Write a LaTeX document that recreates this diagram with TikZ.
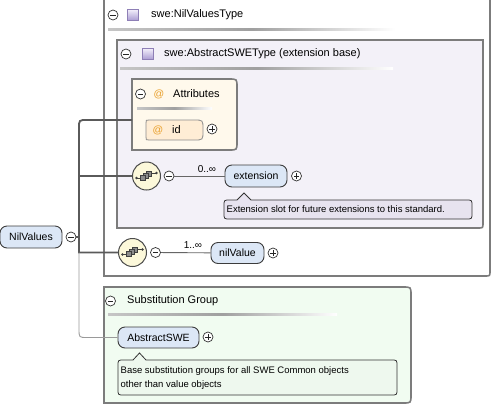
\documentclass[tikz,border=0pt]{standalone}
\usepackage{fontspec}
\setmainfont{Liberation Sans}
\definecolor{boxgray}{HTML}{7C7C7C}
\definecolor{linegray}{HTML}{5A5A5A}
\definecolor{thingray}{HTML}{9A9A9A}
\definecolor{elemfill}{HTML}{DCE7F6}
\definecolor{elemdraw}{HTML}{3C3C3C}
\definecolor{innerfill}{HTML}{F3F1F8}
\definecolor{attrfill}{HTML}{FFF9EC}
\definecolor{idfill}{HTML}{FFEDD5}
\definecolor{substfill}{HTML}{F1FCF1}
\definecolor{extann}{HTML}{E7E3EF}
\definecolor{absann}{HTML}{EEF8EE}
\definecolor{seqfill}{HTML}{FCF8DA}
\definecolor{atorange}{HTML}{E9A02C}
\definecolor{typedraw}{HTML}{8E7FB6}
\definecolor{typelight}{HTML}{F2EEFA}
\definecolor{typedark}{HTML}{A99BD2}
\newcommand{\mkminus}[2]{\node[pm] (#1) at (#2) {}; \draw[pmline] ([xshift=-2.6pt]#1.center) -- ([xshift=2.6pt]#1.center);}
\newcommand{\mkplus}[2]{\node[pm] (#1) at (#2) {}; \draw[pmline] ([xshift=-2.6pt]#1.center) -- ([xshift=2.6pt]#1.center) ([yshift=-2.6pt]#1.center) -- ([yshift=2.6pt]#1.center);}
\newcommand{\mkseq}[2]{\node[seqc] (#1) at (#2) {};
  \begin{scope}[shift={(#1.center)}]
    \draw[black!75,line width=0.8pt] (-10,2) -- (-6,2) (5,-3) -- (10,-3);
    \fill[black!75] (-10,2) circle (1.3pt) (10,-3) circle (1.3pt);
    \draw[draw=black!75,fill=black!45,line width=0.6pt] (0,-5) rectangle (5,0);
    \draw[draw=black!75,fill=black!45,line width=0.6pt] (-3,-3) rectangle (2,2);
    \draw[draw=black!75,fill=black!45,line width=0.6pt] (-6,-1) rectangle (-1,4);
  \end{scope}}
\begin{document}
\begin{tikzpicture}[x=1pt,y=-1pt,
  container/.style={draw=boxgray,line width=1.6pt},
  hdr/.style={anchor=west,inner sep=0pt,font=\fontsize{11}{13}\selectfont},
  elem/.style={draw=elemdraw,fill=elemfill,rounded corners=7pt,line width=0.9pt,inner sep=0pt,font=\fontsize{10.5}{12}\selectfont},
  pm/.style={circle,draw=black!80,fill=white,line width=0.7pt,minimum size=10pt,inner sep=0pt},
  pmline/.style={line width=0.8pt,black!85},
  seqc/.style={circle,draw=black!70,fill=seqfill,line width=1pt,minimum size=28pt,inner sep=0pt},
  trunk/.style={draw=linegray,line width=1.8pt},
  thinconn/.style={draw=thingray,line width=0.9pt},
  conn/.style={draw=black!60,line width=0.9pt},
  cardlabel/.style={inner sep=0pt,font=\fontsize{10}{11}\selectfont},
  annshape/.style={draw=black!80,line width=0.8pt},
  anntext/.style={inner sep=0pt,font=\fontsize{9.5}{14}\selectfont,align=left},
  typeicon/.style={draw=typedraw,line width=0.6pt,top color=typelight,bottom color=typedark,minimum size=11pt,inner sep=0pt},
  atsign/.style={inner sep=0pt,text=atorange,font=\fontsize{10.5}{12}\selectfont},
  sepline/.style={left color=gray!45,right color=white,middle color=gray!75}
]
\useasboundingbox (0,0) rectangle (493,405);
% outer type box
\draw[container,fill=white] (104,-3) -- (104,276) -- (485,276) .. controls (490,276) .. (490,271) -- (490,-3);
\shade[sepline] (108,28.5) rectangle (395,30.5);
\mkminus{m1}{113,15}
\node[typeicon] (t1) at (133,15) {};
\node[hdr] (h1) at (151,15) {swe:NilValuesType};
% inner type box
\draw[container,fill=innerfill] (117,40) -- (117,228) -- (478,228) .. controls (483,228) .. (483,223) -- (483,40) -- cycle;
\shade[sepline] (120,67.5) rectangle (393,69.5);
\mkminus{m2}{126,54}
\node[typeicon] (t2) at (148,54) {};
\node[hdr] (h2) at (164,54) {swe:AbstractSWEType (extension base)};
% attributes
\draw[container,fill=attrfill] (132,79) -- (229,79) .. controls (237,79) .. (237,87) -- (237,142) .. controls (237,150) .. (229,150) -- (132,150) -- cycle;
\shade[sepline] (137,107) rectangle (212,109);
\mkminus{m3}{140.5,94}
\node[atsign] (a1) at (159,94) {@};
\node[hdr] (h3) at (173,94) {Attributes};
\draw[draw=black!45,fill=idfill,line width=0.8pt] (149,120) -- (194,120) .. controls (203,120) .. (203,129) -- (203,131) .. controls (203,140) .. (194,140) -- (149,140) .. controls (146,140) .. (146,137) -- (146,123) .. controls (146,120) .. (149,120) -- cycle;
\node[atsign] (a2) at (158,130) {@};
\node[hdr] (idt) at (172,130) {id};
\mkplus{p1}{212,129}
% substitution group
\draw[container,fill=substfill] (104,287) -- (403,287) .. controls (411,287) .. (411,295) -- (411,395) .. controls (411,403) .. (403,403) -- (104,403) -- cycle;
\shade[sepline] (108,313) rectangle (337,315);
\mkminus{m4}{110.5,301}
\node[hdr] (h4) at (127,301) {Substitution Group};
% elements
\node[elem,minimum width=62pt,minimum height=22pt] (nv) at (31,237) {NilValues};
\mkminus{nvm}{71,237}
\mkseq{s1}{146.5,176}
\mkminus{s1m}{169,176}
\node[elem,minimum width=62pt,minimum height=22pt] (ext) at (256,176) {extension};
\mkplus{extp}{296.5,176}
\mkseq{s2}{132.5,252.5}
\mkminus{s2m}{155.5,252.5}
\node[elem,minimum width=53pt,minimum height=21pt] (nval) at (237.5,253) {nilValue};
\mkplus{nvalp}{273,253}
\node[elem,minimum width=81pt,minimum height=21pt] (abs) at (158.5,337.5) {AbstractSWE};
\mkplus{absp}{208,337}
% connectors
\coordinate (attrL) at (132,120);
\coordinate (j1) at (79,176);
\coordinate (j2) at (79,237);
\coordinate (j3) at (79,252.5);
\draw[trunk] (attrL) -- (87,120) .. controls (79,120) .. (79,128) -- (j3) -- (s2);
\draw[trunk] (j1) -- (s1);
\draw[trunk] (nvm) -- (j2);
\draw[thinconn] (j3) -- (79,329) .. controls (79,337.5) .. (87,337.5) -- (abs);
\draw[conn] (s1m) -- (ext);
\node[cardlabel] (c1) at (207,169) {0..∞};
\draw[conn] (s2m) -- (nval);
\node[cardlabel] (c2) at (193,245) {1..∞};
% annotations
\draw[annshape,fill=extann] (237,200) -- (244,193) -- (251,200) -- (466,200) .. controls (472,200) .. (472,206) -- (472,213) .. controls (472,219) .. (466,219) -- (230,219) .. controls (224,219) .. (224,213) -- (224,206) .. controls (224,200) .. (230,200) -- cycle;
\node[anntext,anchor=west] (extdoc) at (226.5,209.5) {Extension slot for future extensions to this standard.};
\draw[annshape,fill=absann] (133,360) -- (139.5,353) -- (146,360) -- (391,360) .. controls (397,360) .. (397,366) -- (397,389) .. controls (397,395) .. (391,395) -- (124,395) .. controls (118,395) .. (118,389) -- (118,366) .. controls (118,360) .. (124,360) -- cycle;
\node[anntext,anchor=west] (absdoc) at (120.5,378) {Base substitution groups for all SWE Common objects\\other than value objects};
\end{tikzpicture}
\end{document}
